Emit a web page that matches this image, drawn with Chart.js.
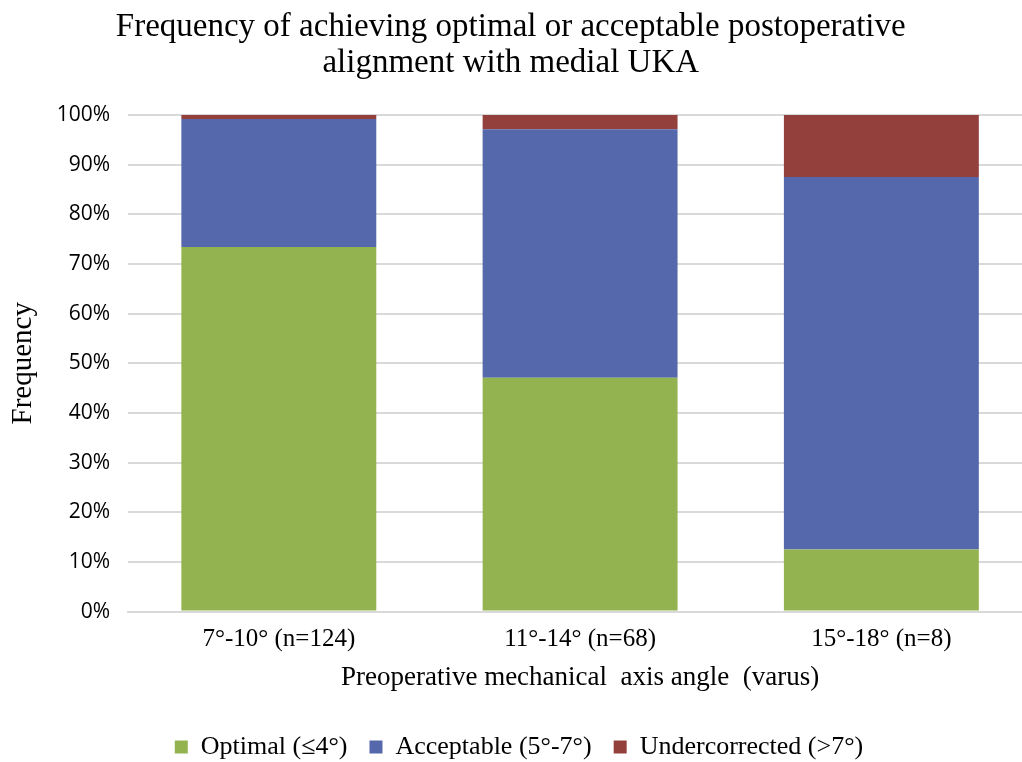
<!DOCTYPE html>
<html>
    <head>
        <meta charset="utf-8">
        <script src="https://cdn.jsdelivr.net/npm/chart.js@4.4.0/dist/chart.umd.min.js"></script>
        <style>
            html, body { margin: 0; background: #fff; overflow: hidden; }
        </style>
    </head>
    <body>
        <!-- the original plot runs a little past the right edge of the picture, so the canvas is wider than the window -->
        <div style="width: 1036px; height: 762px;">
            <canvas id="wykres" width="1036" height="762"></canvas>
        </div>
        <script>
            // data (percent of each group)
            var kategorie = ["7\u00b0-10\u00b0 (n=124)", "11\u00b0-14\u00b0 (n=68)", "15\u00b0-18\u00b0 (n=8)"];
            var optimal = [73.4, 47.1, 12.5];
            var acceptable = [25.8, 50.0, 75.0];
            var undercorrected = [0.8, 2.9, 12.5];
            var ticki = ["0%", "10%", "20%", "30%", "40%", "50%", "60%", "70%", "80%", "90%", "100%"];

            var serif = "'Liberation Serif', 'Times New Roman', serif";
            var nb = "\u00a0\u00a0"; // keeps the title centred on the visible picture

            var dane = {
                labels: kategorie,
                datasets: [
                    { label: "Optimal (\u22644\u00b0)", data: optimal, backgroundColor: "#93b351" },
                    { label: "Acceptable (5\u00b0-7\u00b0)", data: acceptable, backgroundColor: "#5568ac" },
                    { label: "Undercorrected (>7\u00b0)", data: undercorrected, backgroundColor: "#93403c" }
                ]
            };

            const ctx = document.getElementById("wykres").getContext("2d");
            const wykres = new Chart(ctx, {
                type: "bar",
                data: dane,
                options: {
                    responsive: false,
                    animation: false,
                    layout: { padding: { left: 6, right: 4, top: 9, bottom: -8 } },
                    datasets: { bar: { barPercentage: 1, categoryPercentage: 0.647 } },
                    plugins: {
                        title: {
                            display: true,
                            text: ["Frequency of achieving optimal or acceptable postoperative" + nb, "alignment with medial UKA" + nb],
                            color: "#000",
                            font: { family: serif, size: 33, weight: "normal", lineHeight: 1.09 },
                            padding: { top: 0, bottom: 34 }
                        },
                        legend: {
                            position: "bottom",
                            labels: {
                                color: "#000",
                                boxWidth: 13,
                                boxHeight: 13,
                                padding: 22,
                                font: { family: serif, size: 26 }
                            }
                        },
                        tooltip: { enabled: false }
                    },
                    scales: {
                        x: {
                            stacked: true,
                            grid: { display: false },
                            border: { color: "#d9d9d9", width: 2 },
                            ticks: { color: "#000", font: { family: serif, size: 25 }, padding: 5 },
                            title: {
                                display: true,
                                text: "Preoperative mechanical  axis angle  (varus)",
                                color: "#000",
                                font: { family: serif, size: 27 },
                                padding: { top: 2, bottom: 18 }
                            }
                        },
                        y: {
                            stacked: true,
                            min: 0,
                            max: 100,
                            grid: { color: "#d9d9d9", lineWidth: 2, drawTicks: true, tickLength: 8, tickColor: "#fff" },
                            border: { display: false },
                            ticks: {
                                stepSize: 10,
                                color: "#000",
                                font: { family: "'Open Sans', 'Liberation Sans', sans-serif", size: 21 },
                                padding: 10,
                                callback: function (v) { return ticki[Math.round(v / 10)]; }
                            },
                            title: {
                                display: true,
                                text: "Frequency",
                                color: "#000",
                                font: { family: serif, size: 29 },
                                padding: { top: 0, bottom: 6 }
                            }
                        }
                    }
                }
            });
        </script>
    </body>
</html>
